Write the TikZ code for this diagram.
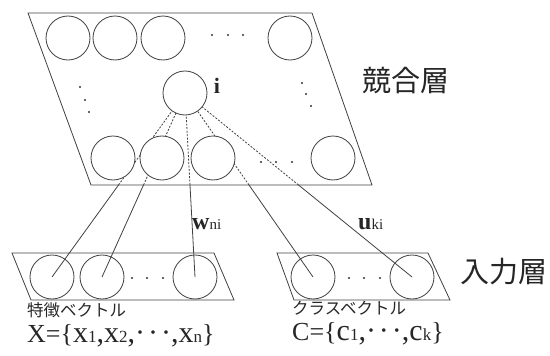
\documentclass[tikz,border=0pt]{standalone}
\usepackage{fontspec}
\setmainfont{Liberation Serif}
\newfontfamily\jpfont{Noto Sans CJK JP}
\newcommand{\bigL}{\fontsize{26}{26}\selectfont}
\newcommand{\lowL}{\fontsize{30}{30}\selectfont}
\newcommand{\subL}[1]{{\fontsize{17}{17}\selectfont #1}}
\newcommand{\mdots}{·\kern3pt·\kern3pt·}
\begin{document}
\begin{tikzpicture}[x=1pt,y=-1pt,
  ln/.style={draw=black!75, line width=0.8pt},
  unit/.style={circle, draw=black!75, line width=0.8pt, minimum size=44pt, inner sep=0pt},
  uwhite/.style={unit, fill=white},
  dotm/.style={circle, fill=black!80, inner sep=0pt, minimum size=2.4pt},
  hid/.style={draw=black!75, line width=0.8pt, dash pattern=on 2pt off 1.5pt},
  jp/.style={text=black!85, inner sep=0pt, font=\jpfont},
  small jp/.style={jp, font=\jpfont\fontsize{16.5}{16.5}\selectfont, text height=12pt, text depth=1pt, anchor=west},
  setlab/.style={lab, text height=16pt, text depth=4pt, anchor=west},
  lab/.style={text=black!85, inner sep=0pt}]
\useasboundingbox (0,0) rectangle (550,356);
% planes
\draw[ln, line join=round] (28,13) -- (312,13) -- (372,185) -- (91,185) -- cycle;
\draw[ln] (12,253) -- (214,253) -- (234,300) -- (31,300) -- cycle;
\draw[ln] (277,253) -- (428,253) -- (450,300) -- (294,300) -- cycle;
% node positions
\coordinate (i) at (185,93);
\node[unit] (in1) at (52,277) {};
\node[unit] (in2) at (102,277) {};
\node[unit] (in3) at (195,277) {};
\node[unit] (c1) at (313,277) {};
\node[unit] (c2) at (412,277) {};
\coordinate (pl) at (0,185);
\coordinate (pr) at (550,185);
% connectors: solid below the top plane, dashed inside
\foreach \s/\e in {in1/p1,in2/p2,in3/p3,c1/p4,c2/p5}{
  \coordinate (\e) at (intersection of \s.center--i and pl--pr);
  \draw[ln] (\s.center) -- (\e);
  \draw[hid] (\e) -- (i);
}
% competitive layer units
\node[uwhite] (t1) at (68,38) {};
\node[uwhite] (t2) at (115,38) {};
\node[uwhite] (t3) at (163,38) {};
\node[uwhite] (t4) at (290,38) {};
\node[uwhite] (b1) at (113,158) {};
\node[uwhite] (b2) at (162,158) {};
\node[uwhite] (b3) at (213,158) {};
\node[uwhite] (b4) at (333,158) {};
\node[uwhite] (ni) at (i) {};
% dots
\foreach \p [count=\k] in {(212,35),(228,35),(243,35),(80,87),(85,100),(89,112),(302,83),(306,94),(311,106),(261,162),(276,162),(292,162),(132,278),(147,278),(163,278),(349,278),(364,278),(380,278)}
  \node[dotm] (d\k) at \p {};
% labels
\node[lab, font=\fontsize{22}{22}\selectfont\bfseries] (li) at (217,86) {i};
\node[jp, font=\jpfont\fontsize{29}{29}\selectfont] (comp) at (406,81) {競合層};
\node[jp, font=\jpfont\fontsize{29}{29}\selectfont] (inp) at (504,272) {入力層};
\node[lab, anchor=west] (w) at (192,224) {\fontsize{24}{24}\selectfont\bfseries w\fontsize{15}{15}\selectfont\mdseries ni};
\node[lab, anchor=west] (u) at (358,224) {\fontsize{24}{24}\selectfont\bfseries u\fontsize{15}{15}\selectfont\mdseries ki};
\node[small jp] (fv) at (27,311) {特徴ベクトル};
\node[small jp] (cv) at (292,309) {クラスベクトル};
\node[setlab] (X) at (27,336) {\bigL X=\{\lowL x\subL{1},x\subL{2},\mdots,x\subL{n}\bigL\}};
\node[setlab] (C) at (292,334) {\bigL C=\{\lowL c\subL{1},\mdots,c\subL{k}\bigL\}};
\end{tikzpicture}
\end{document}
